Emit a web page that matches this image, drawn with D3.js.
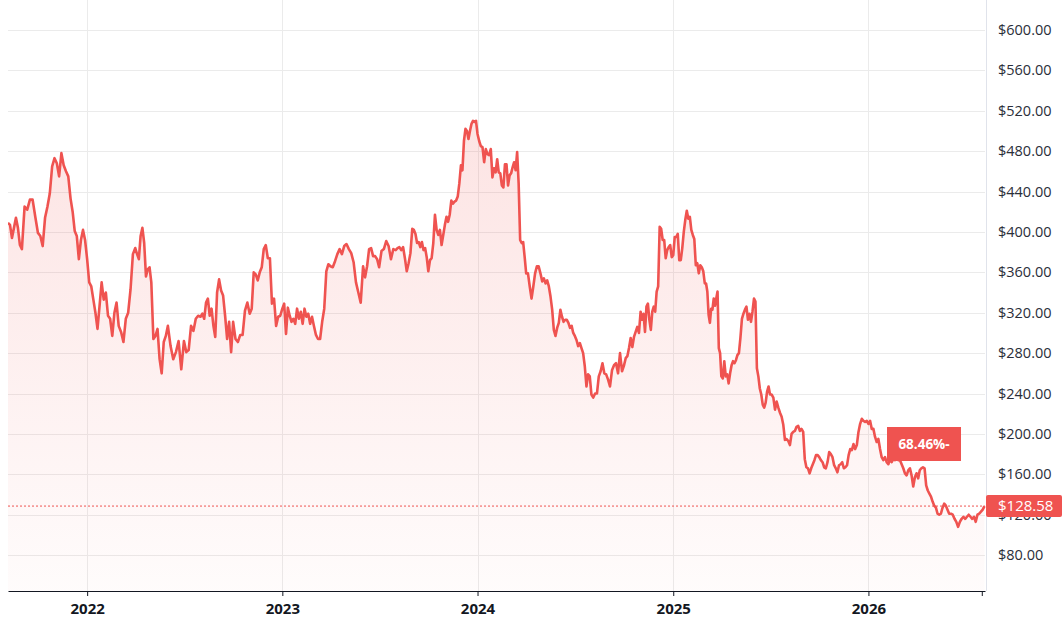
<!DOCTYPE html>
<html>
<head>
<meta charset="utf-8">
<script src="https://cdn.jsdelivr.net/npm/d3@7"></script>
<style>
  body { margin: 0; background: #fff; }
  svg { display: block; font-family: "Open Sans", sans-serif; }
</style>
</head>
<body>
<div id="chart"></div>
<script>
const firstDate = "2021-08-06";
const lastDate = "2026-08-06";

// closes, one inner array per month
const closes2021 = [
    [409, 407, 394, 404, 414, 404, 387],
    [383, 425, 422, 432, 432, 415],
    [399, 396, 386, 414, 425, 438, 465],
    [473, 468, 455, 478, 466, 460, 455],
    [433, 420, 401, 396, 373, 392, 402, 392]
];
const closes2022 = [
    [373, 350, 346, 333, 320, 304, 327, 350],
    [333, 340, 317, 314, 297, 320, 330],
    [307, 301, 291, 314, 320, 343, 378],
    [384, 378, 373, 396, 404, 389, 356, 363, 365],
    [350, 294, 297, 304, 274, 260, 291, 297],
    [307, 287, 274, 281, 292, 264],
    [292, 281, 283, 307, 302, 314, 317],
    [316, 319, 314, 330, 334, 317, 324, 307, 296],
    [340, 353, 342, 337, 317, 294, 311, 281],
    [311, 294, 291, 298, 298, 322, 330],
    [319, 324, 360, 358, 352, 360, 365, 383],
    [387, 374, 374, 329, 334, 307, 316, 317]
];
const closes2023 = [
    [324, 329, 299, 325, 317, 311, 314, 309, 324],
    [314, 321, 309, 324, 316, 319, 309, 316],
    [307, 298, 294, 294, 311, 324, 361, 368],
    [366, 365, 371, 378, 383, 378, 386],
    [388, 383, 379, 370, 350, 340, 330],
    [366, 355, 366, 383, 384, 376, 376, 373],
    [365, 381, 383, 391, 386, 373, 383],
    [382, 384, 385, 382, 385, 374, 361, 369, 379],
    [403, 402, 398, 389, 390, 385, 390, 382, 384, 375],
    [361, 372, 374, 389, 417, 402, 397, 402, 387, 397],
    [407, 415, 410, 417, 431, 428, 430, 431, 435, 448],
    [466, 461, 490, 502, 500, 492, 500, 507, 510, 509, 510]
];
const closes2024 = [
    [497, 490, 485, 484, 469, 482, 477, 476, 482, 454],
    [463, 459, 472, 459, 458, 446, 444, 467, 467, 446],
    [456, 458, 464, 469, 461, 479, 448, 392, 389, 390, 375],
    [359, 359, 346, 334, 346, 359, 366, 366, 359],
    [351, 354, 349, 352, 346, 336, 323, 303, 297, 305],
    [310, 323, 316, 311, 313, 313, 310, 305, 307, 300],
    [297, 293, 287, 290, 285, 280, 267, 247, 259, 257],
    [239, 236, 240, 240, 257, 262, 270, 260, 259],
    [254, 247, 263, 268, 270, 260, 280, 262],
    [268, 275, 277, 285, 295, 286, 296, 301, 306, 300],
    [321, 313, 319, 301, 326, 329, 313, 303, 321, 326, 321],
    [341, 346, 405, 403, 392, 392, 374, 382, 385, 387, 375]
];
const closes2025 = [
    [377, 395, 395, 398, 372, 372, 384, 400, 412, 421, 413],
    [415, 402, 397, 393, 367, 369, 359, 367, 365, 361],
    [349, 349, 341, 318, 310, 324, 323, 334, 327, 334, 341, 285, 280],
    [257, 255, 272, 257, 259, 250, 260, 268, 272, 270, 273],
    [278, 280, 295, 314, 319, 323, 326, 313, 319, 311, 321],
    [334, 331, 265, 257, 245, 239, 229, 226, 231, 242, 247],
    [239, 239, 236, 224, 232, 226, 221, 217, 209, 194],
    [195, 193, 189, 200, 202, 203, 207, 208, 203, 205],
    [202, 175, 167, 166, 161, 166, 170, 174, 179, 179],
    [177, 174, 172, 167, 166, 172, 182, 180, 177, 169],
    [166, 162, 169, 170, 172, 166, 167, 169, 179, 185],
    [184, 190, 185, 189, 202, 210, 215, 213, 212, 213]
];
const closes2026 = [
    [210, 213, 205, 205, 197, 192, 195, 185, 177, 174],
    [177, 172, 170, 175, 172, 175, 174, 177, 174],
    [174, 170, 166, 161, 159, 164, 166, 159, 148, 157],
    [161, 156, 164, 166, 167, 166, 149, 144, 141, 138],
    [133, 129, 127, 121, 120, 121, 127, 131, 129, 125],
    [121, 121, 120, 116, 113, 108, 113, 116, 118],
    [116, 118, 120, 118, 116, 118, 113, 120, 121, 123, 125, 128.58]
];

const priceTicks = [80, 120, 160, 200, 240, 280, 320, 360, 400, 440, 480, 520, 560, 600];
const timeTicks = ["2022-01-01", "2023-01-01", "2024-01-01", "2025-01-01", "2026-01-01", "2026-08-01"];
const lastClose = 128.58;
const changeLabel = "68.46%-";

const width = 1063;
const height = 625;
const margin = { top: 0, right: 78, bottom: 34, left: 8 };
const red = "#ef5350";

const parseDay = d3.utcParse("%Y-%m-%d");
const start = parseDay(firstDate);
const end = parseDay(lastDate);

// spread each month's closes evenly over that month
const points = [];
[[2021, closes2021], [2022, closes2022], [2023, closes2023],
 [2024, closes2024], [2025, closes2025], [2026, closes2026]].forEach(([yr, months]) => {
    const firstMonth = yr === start.getUTCFullYear() ? start.getUTCMonth() : 0;
    months.forEach((vals, i) => {
        const from = Math.max(Date.UTC(yr, firstMonth + i, 1), +start);
        const isLast = yr === end.getUTCFullYear() && i === months.length - 1;
        const to = isLast ? +end : Date.UTC(yr, firstMonth + i + 1, 1);
        const step = (to - from) / (isLast ? vals.length - 1 : vals.length);
        vals.forEach((v, j) => points.push({ date: new Date(from + j * step), v: v }));
    });
});

const svg = d3.select("#chart")
    .append("svg")
    .attr("width", width)
    .attr("height", height)
    .attr("viewBox", [0, 0, width, height]);

const plotBottom = height - margin.bottom;
const plotRight = width - margin.right;

const x = d3.scaleUtc()
    .domain([start, parseDay("2026-08-07")])
    .range([margin.left, plotRight]);
const y = d3.scaleLinear()
    .domain([44.5, 629.6])
    .range([plotBottom, margin.top]);

const defs = svg.append("defs");
defs.append("clipPath").attr("id", "plot-clip")
    .append("rect")
    .attr("x", margin.left).attr("y", margin.top)
    .attr("width", plotRight - margin.left + 1)
    .attr("height", plotBottom - margin.top);

const grad = defs.append("linearGradient")
    .attr("id", "fade")
    .attr("gradientUnits", "userSpaceOnUse")
    .attr("x1", 0).attr("x2", 0)
    .attr("y1", y(d3.max(points, (d) => d.v)))
    .attr("y2", plotBottom);
grad.append("stop").attr("offset", 0).attr("stop-color", red).attr("stop-opacity", 0.16);
grad.append("stop").attr("offset", 1).attr("stop-color", red).attr("stop-opacity", 0.02);

// grid
svg.append("g")
    .selectAll("line")
    .data(priceTicks)
    .join("line")
    .attr("x1", margin.left).attr("x2", plotRight)
    .attr("y1", (d) => Math.round(y(d)) + 0.5)
    .attr("y2", (d) => Math.round(y(d)) + 0.5)
    .attr("stroke", "#ebebeb");

svg.append("g")
    .selectAll("line")
    .data(timeTicks.slice(0, 5).map(parseDay))
    .join("line")
    .attr("x1", (d) => Math.round(x(d)) + 0.5)
    .attr("x2", (d) => Math.round(x(d)) + 0.5)
    .attr("y1", 0).attr("y2", plotBottom)
    .attr("stroke", "#ebebeb");

svg.append("line")
    .attr("x1", plotRight + 1.5).attr("x2", plotRight + 1.5)
    .attr("y1", 0).attr("y2", plotBottom)
    .attr("stroke", "#e0e3eb");

// area + line
const plotArea = svg.append("g").attr("clip-path", "url(#plot-clip)");

plotArea.append("path")
    .datum(points)
    .attr("fill", "url(#fade)")
    .attr("d", d3.area()
        .x((d) => x(d.date))
        .y0(plotBottom)
        .y1((d) => y(d.v)));

plotArea.append("path")
    .datum(points)
    .attr("fill", "none")
    .attr("stroke", red)
    .attr("stroke-width", 2.6)
    .attr("stroke-linejoin", "round")
    .attr("d", d3.line()
        .x((d) => x(d.date))
        .y((d) => y(d.v)));

// last price dotted line
svg.append("line")
    .attr("x1", margin.left).attr("x2", plotRight)
    .attr("y1", y(lastClose)).attr("y2", y(lastClose))
    .attr("stroke", red)
    .attr("stroke-width", 1)
    .attr("stroke-dasharray", "2,2");

// right price axis
svg.append("g")
    .attr("transform", `translate(${plotRight + 13},0)`)
    .call(d3.axisRight(y)
        .tickValues(priceTicks)
        .tickFormat(d3.format("$.2f"))
        .tickSize(0)
        .tickPadding(0))
    .call((g) => g.select(".domain").remove())
    .selectAll("text")
    .attr("font-family", "Open Sans, sans-serif")
    .attr("font-size", 14.5)
    .attr("fill", "#2a2e39");

// bottom time axis
svg.append("g")
    .attr("transform", `translate(0,${plotBottom})`)
    .call(d3.axisBottom(x)
        .tickValues(timeTicks.map(parseDay))
        .tickFormat((d) => d.getUTCMonth() === 0 ? d3.utcFormat("%Y")(d) : "")
        .tickSize(5)
        .tickSizeOuter(0)
        .tickPadding(7))
    .call((g) => g.select(".domain").attr("stroke", "#131722"))
    .call((g) => g.selectAll(".tick line").attr("stroke", "#131722"))
    .selectAll("text")
    .attr("font-family", "Open Sans, sans-serif")
    .attr("font-size", 15)
    .attr("font-weight", 700)
    .attr("fill", "#131722");

// change badge
const badge = svg.append("g").attr("transform", "translate(887,427)");
badge.append("rect")
    .attr("width", 74).attr("height", 34)
    .attr("fill", red);
badge.append("text")
    .attr("x", 37).attr("y", 17)
    .attr("dy", "0.35em")
    .attr("text-anchor", "middle")
    .attr("font-size", 13.5)
    .attr("font-weight", 700)
    .attr("fill", "#fff")
    .text(changeLabel);

// last price label
const priceTag = svg.append("g").attr("transform", `translate(${plotRight + 1},${y(lastClose)})`);
priceTag.append("rect")
    .attr("y", -11).attr("width", 76).attr("height", 22)
    .attr("rx", 2)
    .attr("fill", red);
priceTag.append("text")
    .attr("x", 12).attr("dy", "0.36em")
    .attr("font-size", 15)
    .attr("fill", "#fff")
    .text(d3.format("$.2f")(lastClose));
</script>
</body>
</html>
